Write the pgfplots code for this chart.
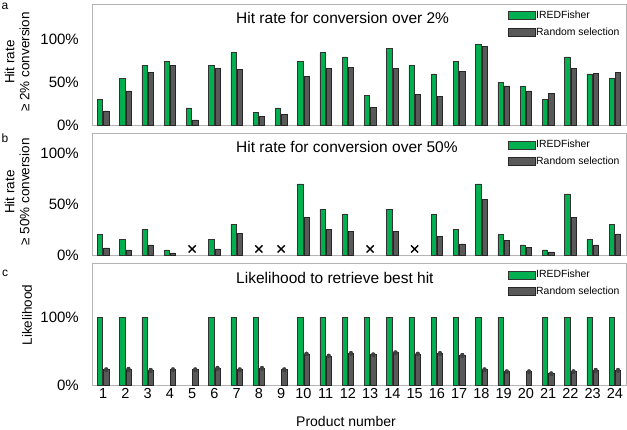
\documentclass[border=0pt]{standalone}
\usepackage{fontspec}
\setmainfont{Liberation Sans}
\usepackage{pgfplots}
\pgfplotsset{compat=1.18}
\definecolor{ired}{RGB}{0,176,80}
\definecolor{rnd}{RGB}{89,89,89}
\definecolor{framec}{RGB}{180,180,180}

\pgfplotsset{
 panel/.style={
  scale only axis, width=534pt,
  xmin=0.5, xmax=24.5, ymin=0,
  axis line style={framec, line width=0.9pt},
  major tick length=0pt,
  xtick={1,...,24},
  yticklabel style={font=\fontsize{15}{18}\selectfont, inner sep=0pt, xshift=-13pt},
  xticklabel style={font=\fontsize{14.5}{17}\selectfont},
  /pgf/number format/assume math mode=true,
  legend style={at={(0.99,0.95)}, anchor=north east, draw=none, fill=none,
    font=\fontsize{10.4}{12.5}\selectfont, row sep=5.5pt, inner sep=0pt,
    nodes={inner sep=1pt}},
  legend cell align=left,
  legend image code/.code={\draw[##1] (0pt,-4pt) rectangle (27pt,4pt);},
  clip=false,
 },
 greenbar/.style={ybar, bar width=5.4pt, bar shift=-3.1pt, fill=ired, draw=black!80, line width=0.55pt},
 graybar/.style={ybar, bar width=5.4pt, bar shift=3.1pt, fill=rnd, draw=black!85, line width=0.55pt},
}
\tikzset{ttl/.style={anchor=base west, yshift=-20pt, font=\fontsize{15.5}{18}\selectfont}}

\begin{document}
\begin{tikzpicture}
\useasboundingbox (0,0) rectangle (627pt,-430pt);

% ---------- panel a ----------
\begin{axis}[panel, at={(92pt,-125pt)}, anchor=south west, height=121pt,
  ymax=142, ytick={0,50,100}, yticklabels={0\%,50\%,100\%}, xticklabels=\empty]
\addplot[greenbar] coordinates {(1,30)(2,55)(3,70)(4,75)(5,20)(6,70)(7,85)(8,15)(9,20)(10,75)(11,85)(12,80)(13,35)(14,90)(15,70)(16,60)(17,75)(18,95)(19,50)(20,45)(21,30)(22,80)(23,60)(24,55)};
\addplot[graybar] coordinates {(1,16.5)(2,40)(3,62)(4,70)(5,6)(6,66)(7,65)(8,10)(9,12)(10,57)(11,66)(12,68)(13,21)(14,66)(15,36)(16,34)(17,63)(18,92)(19,46)(20,40)(21,37)(22,66)(23,61)(24,61.5)};
\legend{IREDFisher,Random selection}
\node[ttl] at (rel axis cs:0.2635,1) {Hit rate for conversion over 2\%};
\end{axis}

% ---------- panel b ----------
\begin{axis}[panel, at={(92pt,-255pt)}, anchor=south west, height=122pt,
  ymax=120, ytick={0,50,100}, yticklabels={0\%,50\%,100\%}, xticklabels=\empty]
\addplot[greenbar] coordinates {(1,20)(2,15)(3,25)(4,5)(6,15)(7,30)(10,70)(11,45)(12,40)(14,45)(16,40)(17,25)(18,70)(19,20)(20,10)(21,5)(22,60)(23,15)(24,30)};
\addplot[graybar] coordinates {(1,7)(2,5)(3,10)(4,2)(6,6)(7,21)(10,37)(11,25)(12,23)(14,23)(16,18)(17,11)(18,54.5)(19,14)(20,7.5)(21,3)(22,37)(23,10)(24,20.7)};
\addplot[only marks, mark=x, mark size=5pt, black, forget plot,
  mark options={line width=1.4pt}] coordinates {(5,6)(8,6)(9,6)(13,6)(15,6)};
\legend{IREDFisher,Random selection}
\node[ttl] at (rel axis cs:0.2635,1) {Hit rate for conversion over 50\%};
\end{axis}

% ---------- panel c ----------
\begin{axis}[panel, at={(92pt,-385pt)}, anchor=south west, height=122pt,
  ymax=180, ytick={0,100}, yticklabels={0\%,100\%}]
\addplot[greenbar] coordinates {(1,100)(2,100)(3,100)(6,100)(7,100)(8,100)(10,100)(11,100)(12,100)(13,100)(14,100)(15,100)(16,100)(17,100)(18,100)(19,100)(21,100)(22,100)(23,100)(24,100)};
\addplot[graybar] coordinates {(1,23)(2,23.5)(3,22)(4,23)(5,23)(6,25)(7,23)(8,25)(9,23)(10,46)(11,43)(12,47)(13,45)(14,48)(15,46)(16,47)(17,44)(18,23)(19,20)(20,20)(21,17)(22,20)(23,22)(24,22)};
\legend{IREDFisher,Random selection}
% error bars of the random-selection bars (bar centres at x + 0.14)
\addplot[black!75, only marks, mark=none, forget plot,
  error bars/.cd, y dir=both, y explicit,
  error bar style={black!75, line width=0.4pt},
  error mark options={rotate=90, mark size=1.4pt, black!75, line width=0.4pt}]
  coordinates {(1.14,23)+-(0,2.5) (2.14,23.5)+-(0,2.5) (3.14,22)+-(0,2.5) (4.14,23)+-(0,2.5) (5.14,23)+-(0,2.5) (6.14,25)+-(0,2.5) (7.14,23)+-(0,2.5) (8.14,25)+-(0,2.5) (9.14,23)+-(0,2.5) (10.14,46)+-(0,2.5) (11.14,43)+-(0,2.5) (12.14,47)+-(0,2.5) (13.14,45)+-(0,2.5) (14.14,48)+-(0,2.5) (15.14,46)+-(0,2.5) (16.14,47)+-(0,2.5) (17.14,44)+-(0,2.5) (18.14,23)+-(0,2.5) (19.14,20)+-(0,2.5) (20.14,20)+-(0,2.5) (21.14,17)+-(0,2.5) (22.14,20)+-(0,2.5) (23.14,22)+-(0,2.5) (24.14,22)+-(0,2.5)};
\node[ttl] at (rel axis cs:0.2635,1) {Likelihood to retrieve best hit};
\end{axis}

% ---------- labels ----------
\node[anchor=base, font=\fontsize{14}{16}\selectfont] at (346pt,-426.3pt) {Product number};
\node[rotate=90, align=center, font=\fontsize{13.5}{15}\selectfont] at (17pt,-62pt) {Hit rate\\≥ 2\% conversion};
\node[rotate=90, align=center, font=\fontsize{13.5}{15}\selectfont] at (17pt,-192pt) {Hit rate\\≥ 50\% conversion};
\node[rotate=90, font=\fontsize{13.5}{15}\selectfont] at (27pt,-315pt) {Likelihood};
\node[font=\fontsize{12}{14}\selectfont] at (5pt,-6pt) {a};
\node[font=\fontsize{12}{14}\selectfont] at (5pt,-138pt) {b};
\node[font=\fontsize{12}{14}\selectfont] at (5pt,-273pt) {c};
\end{tikzpicture}
\end{document}
